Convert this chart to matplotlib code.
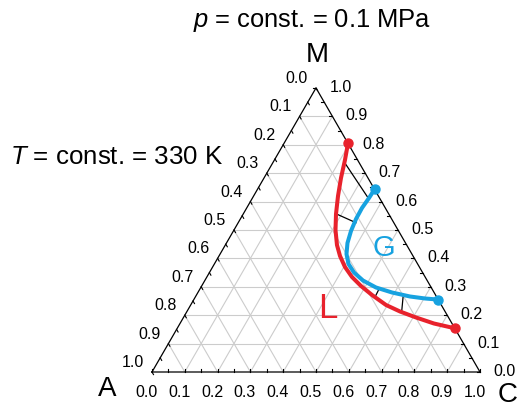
import matplotlib
matplotlib.use("Agg")
import matplotlib.pyplot as plt
import numpy as np

plt.rcParams['font.family'] = ['Liberation Sans', 'DejaVu Sans']
plt.rcParams['mathtext.fontset'] = 'custom'
plt.rcParams['mathtext.it'] = 'Liberation Sans:italic'
plt.rcParams['mathtext.rm'] = 'Liberation Sans'

# ---- data (ternary fractions: C = component C, M = component M) ----
tick_values = [0.0, 0.1, 0.2, 0.3, 0.4, 0.5, 0.6, 0.7, 0.8, 0.9, 1.0]
tick_labels = ["0.0", "0.1", "0.2", "0.3", "0.4", "0.5", "0.6", "0.7", "0.8", "0.9", "1.0"]

L_C = [0.195, 0.2152, 0.2347, 0.2573, 0.2829, 0.3095, 0.3404, 0.3690, 0.4036,
       0.4426, 0.4858, 0.5352, 0.5955, 0.6496, 0.7090, 0.7744, 0.846]
L_M = [0.805, 0.7463, 0.6830, 0.6196, 0.5562, 0.4999, 0.4471, 0.4084, 0.3696,
       0.3344, 0.3028, 0.2711, 0.2359, 0.2130, 0.1919, 0.1707, 0.154]

G_C = [0.357, 0.3553, 0.3515, 0.3527, 0.3585, 0.3689, 0.3853, 0.4090, 0.4407,
       0.4822, 0.5342, 0.5918, 0.6537, 0.7029, 0.745]
G_M = [0.643, 0.6126, 0.5773, 0.5386, 0.4964, 0.4541, 0.4154, 0.3802, 0.3503,
       0.3221, 0.2975, 0.2799, 0.2658, 0.2588, 0.255]

# tie lines: liquid end and gas end
tie_L_C = [0.221, 0.285, 0.548, 0.656]
tie_L_M = [0.735, 0.556, 0.262, 0.2100]
tie_G_C = [0.354, 0.359, 0.546, 0.632]
tie_G_M = [0.6115, 0.5256, 0.2947, 0.2675]

# ---- layout (pixel frame of triangle) ----
AX, AY = 152.0, 372.0
SIDE = 328.0
H = SIDE * np.sqrt(3) / 2


def tern(c, m):
    c = np.asarray(c, dtype=float)
    m = np.asarray(m, dtype=float)
    return AX + SIDE * (c + m / 2.0), AY - H * m


fig = plt.figure(figsize=(5.21, 4.08), dpi=100)
ax = fig.add_axes([0, 0, 1, 1])
ax.set_xlim(0, 521)
ax.set_ylim(408, 0)
ax.axis('off')

grid_col = '#cccccc'
for v in tick_values[1:-1]:
    x, y = tern([0, 1 - v], [v, v])          # constant M
    ax.plot(x, y, color=grid_col, lw=0.8, zorder=1)
    x, y = tern([v, v], [0, 1 - v])          # constant C
    ax.plot(x, y, color=grid_col, lw=0.8, zorder=1)
    x, y = tern([1 - v, 0], [0, 1 - v])      # constant A
    ax.plot(x, y, color=grid_col, lw=0.8, zorder=1)

# triangle
x, y = tern([0, 1, 0, 0], [0, 0, 1, 0])
ax.plot(x, y, color='black', lw=0.9, zorder=3, solid_joinstyle='miter')

# small ticks
minor = np.arange(0, 1.0001, 0.05)
tl = 3.0
for v in minor:
    x, y = tern(v, 0)
    ax.plot([x, x], [y, y - tl], color='black', lw=0.8, zorder=3)
    x, y = tern(1 - v, v)
    ax.plot([x, x - tl], [y, y], color='black', lw=0.8, zorder=3)
    x, y = tern(0, 1 - v)
    ax.plot([x, x + tl * 0.5], [y, y + tl * 0.866], color='black', lw=0.8, zorder=3)

fs_tick = 11.5
for v, lab in zip(tick_values, tick_labels):
    x, y = tern(v, 0)
    ax.text(x - 5.5, y + 25, lab, ha='center', va='baseline', fontsize=fs_tick)
    x, y = tern(1 - v, v)
    ax.text(x + 24.5, y + 4, lab, ha='center', va='baseline', fontsize=fs_tick)
    x, y = tern(0, 1 - v)
    ax.text(x - 19, y - 5, lab, ha='center', va='baseline', fontsize=fs_tick)

red = '#e8222c'
blue = '#17a2e0'

x, y = tern(L_C, L_M)
ax.plot(x, y, color=red, lw=2.9, zorder=5, solid_capstyle='round', solid_joinstyle='round')
ax.plot([x[0], x[-1]], [y[0], y[-1]], 'o', color=red, ms=6.5, zorder=6)

x, y = tern(G_C, G_M)
ax.plot(x, y, color=blue, lw=2.9, zorder=5, solid_capstyle='round', solid_joinstyle='round')
ax.plot([x[0], x[-1]], [y[0], y[-1]], 'o', color=blue, ms=6.5, zorder=6)

for lc, lm, gc, gm in zip(tie_L_C, tie_L_M, tie_G_C, tie_G_M):
    x, y = tern([lc, gc], [lm, gm])
    ax.plot(x, y, color='black', lw=0.9, zorder=4)

ax.text(383.5, 256, 'G', color=blue, fontsize=21, ha='center', va='baseline')
ax.text(328, 318, 'L', color=red, fontsize=25, ha='center', va='baseline')

ax.text(107.5, 396.5, 'A', fontsize=20, ha='center', va='baseline')
ax.text(508, 402.5, 'C', fontsize=20, ha='center', va='baseline')
ax.text(317, 62, 'M', fontsize=20, ha='center', va='baseline')

ax.text(312, 27, r'$p$ = const. = 0.1 MPa', fontsize=18.4, ha='center', va='baseline')
ax.text(10, 164.3, r'$T$ = const. = 330 K', fontsize=18.6, ha='left', va='baseline')

fig.savefig('out.png', dpi=100)
